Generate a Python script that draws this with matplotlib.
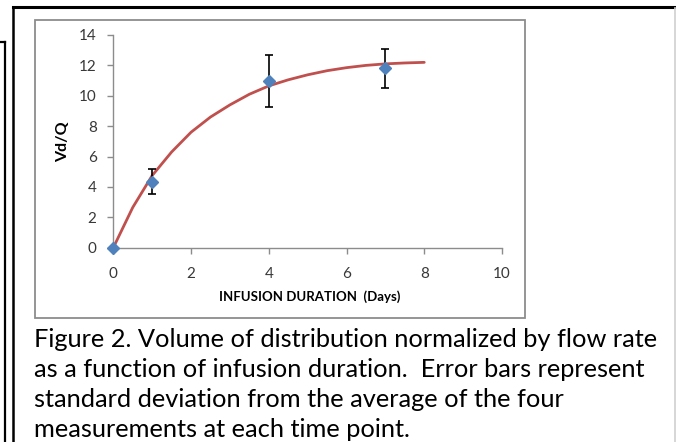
import matplotlib
matplotlib.use("Agg")
import matplotlib.pyplot as plt
from matplotlib.lines import Line2D
from matplotlib.patches import Rectangle

# measured points (days, Vd/Q) and their standard deviations
days = [0, 1, 4, 7]
vd_q = [0.0, 4.35, 10.97, 11.8]
vd_q_sd = [0.0, 0.81, 1.74, 1.28]

# fitted curve
fit_days = [0, 0.5, 1, 1.5, 2, 2.5, 3, 3.5, 4, 4.5, 5, 5.5, 6, 6.5, 7, 7.5, 8]
fit_vd_q = [0.0, 2.65, 4.75, 6.3, 7.6, 8.6, 9.4, 10.1, 10.65, 11.05,
            11.38, 11.65, 11.85, 12.0, 12.1, 12.16, 12.2]

x_ticks = [0, 2, 4, 6, 8, 10]
y_ticks = [0, 2, 4, 6, 8, 10, 12, 14]

caption = ("Figure 2. Volume of distribution normalized by flow rate\n"
           "as a function of infusion duration.  Error bars represent\n"
           "standard deviation from the average of the four\n"
           "measurements at each time point.")

plt.rcParams["font.family"] = ["Lato", "DejaVu Sans"]

W, H = 676, 442
fig = plt.figure(figsize=(W / 100, H / 100), dpi=100)


def px(x, y):
    return x / W, 1 - y / H


# page frames
def fline(xs, ys, color="black", lw=1.6):
    fig.add_artist(Line2D([x / W for x in xs], [1 - y / H for y in ys],
                          color=color, lw=lw, transform=fig.transFigure))


fline([12.5, 675], [7, 7], lw=2.2)
fline([12.5, 12.5], [7, 442], lw=1.8)
fline([0, 4.5], [41.5, 41.5], lw=1.6)
fline([4.5, 4.5], [41.5, 442], lw=1.6)
fline([675, 675], [8, 442], color="#d0d0d0", lw=1.2)

# chart area box
x0, y0 = px(34.5, 318)
x1, y1 = px(525, 19.5)
fig.add_artist(Rectangle((x0, y0), x1 - x0, y1 - y0, transform=fig.transFigure,
                         fill=False, edgecolor="#8c8c8c", lw=1.3))

left, top = 113.3, 35.0
right, bottom = 502.0, 247.7
ax = fig.add_axes([left / W, 1 - bottom / H, (right - left) / W, (bottom - top) / H])

ax.plot(fit_days, fit_vd_q, color="#c0504d", lw=2.0, zorder=2,
        solid_capstyle="round")
ax.errorbar(days, vd_q, yerr=vd_q_sd, fmt="none", ecolor="black",
            elinewidth=1.2, capsize=2.8, capthick=1.2, zorder=3)
ax.plot(days, vd_q, linestyle="none", marker="D", markersize=6.3,
        color="#4f81bd", markeredgecolor="#4f81bd", zorder=4, clip_on=False)

ax.set_xlim(0, 10)
ax.set_ylim(0, 14)
ax.set_xticks(x_ticks)
ax.set_yticks(y_ticks)

for side in ["top", "right"]:
    ax.spines[side].set_visible(False)
for side in ["left", "bottom"]:
    ax.spines[side].set_color("#8c8c8c")
    ax.spines[side].set_linewidth(1.0)

ax.tick_params(axis="both", direction="out", length=4, width=1.0,
               color="#8c8c8c", labelsize=11, labelcolor="#383838")
ax.tick_params(axis="x", pad=10)
ax.tick_params(axis="y", pad=8)

ax.set_xlabel("INFUSION DURATION  (Days)", fontsize=9.5, fontweight="bold",
              va="center", color="black")
ax.xaxis.set_label_coords((310 - left) / (right - left), (bottom - 297) / (bottom - top))
ax.set_ylabel("Vd/Q", fontsize=11.5, fontweight="bold", va="center", color="black")
ax.yaxis.set_label_coords((63 - left) / (right - left), (bottom - 142) / (bottom - top))

cx, cy = px(34, 328)
fig.text(cx, cy, caption, ha="left", va="top", fontsize=18.3, linespacing=1.36,
         color="black")

fig.savefig("out.png", dpi=100)
